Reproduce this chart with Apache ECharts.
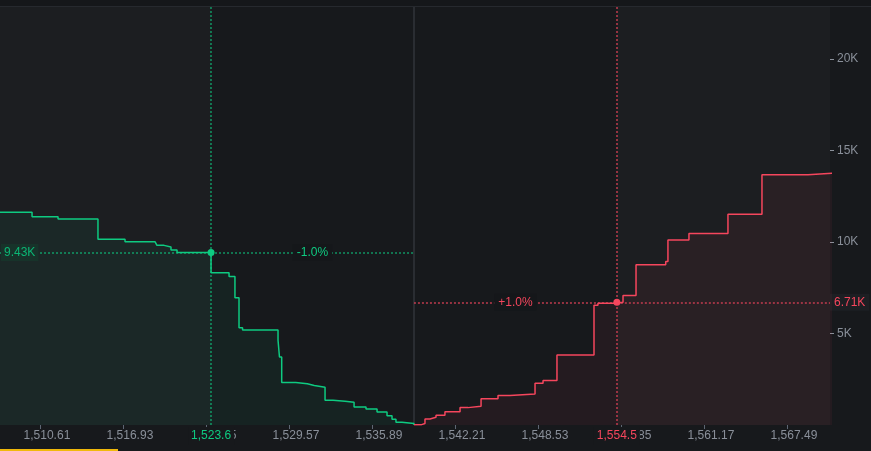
<!DOCTYPE html>
<html><head><meta charset="utf-8">
<script src="https://cdn.jsdelivr.net/npm/echarts@6/dist/echarts.min.js"></script>
<style>html,body{margin:0;padding:0;background:#17191c;overflow:hidden}#c{width:871px;height:451px}</style>
</head><body><div id="c"></div>
<script>
// ---- data ----
const midPrice = 1539.05;
const priceMin = 1507.53;
const priceMax = 1570.73;
const depthMax = 22850;
const bidPrices = [1507.0, 1509.97, 1511.95, 1514.99, 1517.05, 1519.33, 1519.48, 1520.02, 1520.55, 1521.01,
  1523.6, 1524.97, 1525.42, 1525.73, 1526.00, 1528.70, 1528.81, 1528.98, 1530.05, 1530.93, 1531.46,
  1532.28, 1532.89, 1533.80, 1534.49, 1535.40, 1536.24, 1537.00, 1537.38, 1537.68, 1538.14, 1539.05];
const bidDepth = [11630, 11380, 11260, 10160, 10020, 9960, 9820, 9730, 9560, 9430,
  8320, 8120, 6950, 5310, 5200, 4640, 3720, 2320, 2260, 2160, 2060,
  1350, 1300, 1240, 990, 880, 710, 510, 310, 150, 80, 0];
const askPrices = [1539.05, 1539.64, 1539.89, 1540.27, 1540.73, 1541.41, 1542.56, 1543.17, 1544.16, 1545.45,
  1546.36, 1548.27, 1548.88, 1549.94, 1552.76, 1553.06, 1554.5, 1554.97, 1555.96, 1558.22,
  1558.39, 1559.99, 1562.96, 1565.55, 1569.05, 1571.0];
const askDepth = [20, 80, 330, 420, 530, 730, 950, 1020, 1440, 1610,
  1700, 2280, 2430, 3830, 6540, 6660, 6710, 7080, 8760, 8940,
  10110, 10470, 11520, 13680, 13760, 13760];
const xTickValues = [1510.61, 1516.93, 1523.25, 1529.57, 1535.89, 1542.21, 1548.53, 1554.85, 1561.17, 1567.49];
const yTickValues = [5000, 10000, 15000, 20000];
const bidMark = { price: 1523.6, depth: 9430, label: '-1.0%' };
const askMark = { price: 1554.5, depth: 6710, label: '+1.0%' };

// ---- helpers ----
const GREEN = '#0ecb81', RED = '#f6465d', GRAY = '#8a909a';
const GREEN_DOT = 'rgba(14,203,129,0.7)', RED_DOT = 'rgba(246,70,93,0.75)';
const FONT = "'Liberation Sans', Arial, sans-serif";
const fmtPrice = (v, d) => v.toLocaleString('en-US', { minimumFractionDigits: d, maximumFractionDigits: d });
const fmtK = v => (v / 1000).toFixed(2) + 'K';
const dotted = (c) => ({ type: [2, 2], color: c, width: 1.5 });

const chart = echarts.init(document.getElementById('c'), null, { renderer: 'canvas' });
chart.setOption({
  backgroundColor: '#17191c',
  animation: false,
  textStyle: { fontFamily: FONT },
  grid: { left: 0, right: 41, top: 7, bottom: 26 },
  graphic: [
    { type: 'rect', left: 0, top: 0, shape: { width: 871, height: 6 }, style: { fill: '#15171a' }, silent: true },
    { type: 'rect', left: 0, top: 6, shape: { width: 871, height: 1 }, style: { fill: '#26292e' }, silent: true },
    { type: 'rect', left: 0, top: 449, shape: { width: 118, height: 2 }, style: { fill: '#f0b90b' }, silent: true }
  ],
  xAxis: {
    type: 'value', min: priceMin, max: priceMax, z: 0,
    axisLine: { show: false }, splitLine: { show: false },
    axisTick: { show: true, length: 4, customValues: xTickValues, lineStyle: { color: '#5e6673' } },
    axisLabel: { customValues: xTickValues, formatter: v => fmtPrice(v, 2), color: GRAY, fontSize: 12, margin: 5,
      fontFamily: FONT, padding: [0, 0, 0, 13] }
  },
  yAxis: {
    type: 'value', position: 'right', min: 0, max: depthMax, z: 0,
    axisLine: { show: false }, splitLine: { show: false },
    axisTick: { show: true, length: 4, customValues: yTickValues, lineStyle: { color: GRAY } },
    axisLabel: { customValues: yTickValues, formatter: v => (v / 1000) + 'K', color: GRAY, fontSize: 12, margin: 7, fontFamily: FONT }
  },
  series: [
    {
      type: 'line', name: 'Bids', step: 'end', symbol: 'none', showSymbol: false, zlevel: 1,
      data: bidPrices.map((p, i) => [p, bidDepth[i]]),
      lineStyle: { color: GREEN, width: 1.5 },
      areaStyle: { color: 'rgba(14,203,129,0.085)' },
      markArea: { silent: true, itemStyle: { color: 'rgba(255,255,255,0.022)' },
        data: [[{ xAxis: priceMin }, { xAxis: bidMark.price }]] },
      markLine: {
        silent: true, symbol: ['none', 'none'], z: 50,
        data: [
          { xAxis: midPrice, lineStyle: { type: 'solid', color: '#2a2d32', width: 2 }, label: { show: false } },
          { xAxis: bidMark.price, lineStyle: dotted(GREEN_DOT),
            label: { show: true, position: 'start', distance: 2, formatter: fmtPrice(bidMark.price, 1), color: GREEN,
              fontSize: 12, fontFamily: FONT, backgroundColor: '#17191c', padding: [3, 3, 3, 3] } },
          [{ coord: [priceMin, bidMark.depth], lineStyle: dotted(GREEN_DOT),
             label: { show: true, position: 'insideStart', distance: 1, formatter: fmtK(bidMark.depth), color: '#0bb573',
               fontSize: 12, fontFamily: FONT, backgroundColor: '#182a25', padding: [3, 3, 2, 3] } },
           { coord: [bidMark.price, bidMark.depth] }],
          [{ coord: [bidMark.price, bidMark.depth], lineStyle: dotted(GREEN_DOT),
             label: { show: true, position: 'insideMiddle', formatter: bidMark.label, color: GREEN,
               fontSize: 12, fontFamily: FONT, backgroundColor: '#15171a', padding: [3, 4, 2, 4] } },
           { coord: [midPrice, bidMark.depth] }]
        ]
      },
      markPoint: { silent: true, symbol: 'circle', symbolSize: 7, label: { show: false },
        itemStyle: { color: GREEN }, data: [{ coord: [bidMark.price, bidMark.depth] }] }
    },
    {
      type: 'line', name: 'Asks', step: 'end', symbol: 'none', showSymbol: false, zlevel: 1,
      data: askPrices.map((p, i) => [p, askDepth[i]]),
      lineStyle: { color: RED, width: 1.5 },
      areaStyle: { color: 'rgba(246,70,93,0.09)' },
      markArea: { silent: true, itemStyle: { color: 'rgba(255,255,255,0.022)' },
        data: [[{ xAxis: askMark.price }, { xAxis: priceMax }]] },
      markLine: {
        silent: true, symbol: ['none', 'none'], z: 50,
        data: [
          { xAxis: askMark.price, lineStyle: dotted(RED_DOT),
            label: { show: true, position: 'start', distance: 2, formatter: fmtPrice(askMark.price, 1), color: RED,
              fontSize: 12, fontFamily: FONT, backgroundColor: '#17191c', padding: [3, 3, 3, 3] } },
          [{ coord: [midPrice, askMark.depth], lineStyle: dotted(RED_DOT),
             label: { show: true, position: 'insideMiddle', formatter: askMark.label, color: RED,
               fontSize: 12, fontFamily: FONT, backgroundColor: '#15171a', padding: [3, 4, 2, 4] } },
           { coord: [askMark.price, askMark.depth] }],
          [{ coord: [askMark.price, askMark.depth], lineStyle: dotted(RED_DOT),
             label: { show: true, position: 'end', distance: 0, formatter: fmtK(askMark.depth), color: RED,
               fontSize: 12, fontFamily: FONT, backgroundColor: '#1d1f23', padding: [3, 4, 2, 4] } },
           { coord: [priceMax, askMark.depth] }]
        ]
      },
      markPoint: { silent: true, symbol: 'circle', symbolSize: 7, label: { show: false },
        itemStyle: { color: RED }, data: [{ coord: [askMark.price, askMark.depth] }] }
    }
  ]
});
</script></body></html>
